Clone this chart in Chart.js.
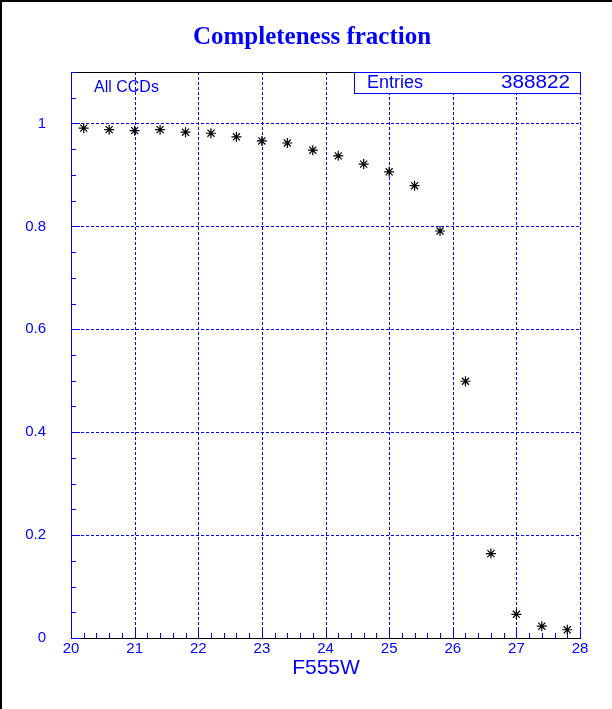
<!DOCTYPE html>
<html>
<head>
<meta charset="utf-8">
<script src="https://cdn.jsdelivr.net/npm/chart.js@4"></script>
<style>
  html, body { margin: 0; padding: 0; background: #fff; }
  canvas { display: block; }
</style>
</head>
<body>
<canvas id="completeness" width="612" height="709"></canvas>
<script>
// F555W magnitude bins and completeness fraction
const magnitudes = [20.2, 20.6, 21.0, 21.4, 21.8, 22.2, 22.6, 23.0, 23.4, 23.8,
                    24.2, 24.6, 25.0, 25.4, 25.8, 26.2, 26.6, 27.0, 27.4, 27.8];
const fractions = [0.991, 0.988, 0.986, 0.988, 0.983, 0.981, 0.974, 0.966, 0.962, 0.948,
                   0.937, 0.921, 0.906, 0.879, 0.791, 0.499, 0.164, 0.046, 0.023, 0.016];
const xTickLabels = [20, 21, 22, 23, 24, 25, 26, 27, 28];
const yTickLabels = [0, 0.2, 0.4, 0.6, 0.8, 1];
const entries = 388822;

const BLUE = "#0000ff";

const pawFrame = {
    id: 'pawFrame',
    beforeDatasetsDraw(chart) {
        const c = chart.ctx;
        const xs = chart.scales.x, ys = chart.scales.y;
        const a = chart.chartArea;
        c.save();

        // dashed grid
        c.strokeStyle = BLUE;
        c.lineWidth = 1;
        c.setLineDash([3, 2]);
        xTickLabels.slice(1).forEach(v => {
            const px = Math.round(xs.getPixelForValue(v)) + 0.5;
            c.beginPath(); c.moveTo(px, a.top); c.lineTo(px, a.bottom); c.stroke();
        });
        yTickLabels.slice(1).forEach(v => {
            const py = Math.round(ys.getPixelForValue(v)) + 0.5;
            c.beginPath(); c.moveTo(a.left, py); c.lineTo(a.right, py); c.stroke();
        });
        c.setLineDash([]);

        // frame
        c.strokeStyle = "#000";
        c.beginPath(); c.moveTo(a.left, a.top + 0.5); c.lineTo(a.right, a.top + 0.5); c.stroke();
        c.beginPath(); c.moveTo(a.left, a.bottom + 0.5); c.lineTo(a.right + 1, a.bottom + 0.5); c.stroke();
        c.strokeStyle = BLUE;
        c.beginPath(); c.moveTo(a.left + 0.5, a.top); c.lineTo(a.left + 0.5, a.bottom); c.stroke();

        // x ticks
        for (let i = 0; i <= 40; i++) {
            const v = 20 + i * 0.2;
            const px = Math.round(xs.getPixelForValue(v)) + 0.5;
            const len = (i % 5 === 0) ? 9 : 5;
            c.beginPath(); c.moveTo(px, a.bottom); c.lineTo(px, a.bottom - len); c.stroke();
        }
        // y ticks
        for (let i = 0; i <= 22; i++) {
            const v = i * 0.05;
            const py = Math.round(ys.getPixelForValue(v)) + 0.5;
            const len = (i % 4 === 0) ? 9 : 5;
            c.beginPath(); c.moveTo(a.left, py); c.lineTo(a.left + len, py); c.stroke();
        }

        // tick labels
        c.fillStyle = BLUE;
        c.font = "15px 'Liberation Sans', Arial, sans-serif";
        c.textAlign = "center";
        c.textBaseline = "middle";
        xTickLabels.forEach(v => {
            c.fillText(String(v), xs.getPixelForValue(v), a.bottom + 11);
        });
        c.textAlign = "right";
        yTickLabels.forEach(v => {
            c.fillText(String(v), 46, ys.getPixelForValue(v));
        });

        // axis title
        c.textAlign = "center";
        c.font = "21px 'Liberation Sans', Arial, sans-serif";
        c.fillText("F555W", 326, 668);

        // title
        c.font = "bold 25px 'Liberation Serif', 'Times New Roman', serif";
        c.fillText("Completeness fraction", 312, 38);

        // label inside plot
        c.textAlign = "left";
        c.font = "16px 'Liberation Sans', Arial, sans-serif";
        c.fillText("All CCDs", 94, 88);

        // stats box
        c.fillStyle = "#fff";
        c.fillRect(354, 72, 227, 22);
        c.strokeStyle = BLUE;
        c.strokeRect(354.5, 72.5, 226, 21);
        c.fillStyle = BLUE;
        c.font = "18px 'Liberation Sans', Arial, sans-serif";
        c.fillText("Entries", 367, 83);
        c.save();
        c.translate(570, 83);
        c.scale(1.15, 1);
        c.textAlign = "right";
        c.fillText(String(entries), 0, 0);
        c.restore();

        // page border
        c.strokeStyle = "#000";
        c.lineWidth = 2;
        c.beginPath(); c.moveTo(1, 709); c.lineTo(1, 1); c.lineTo(612, 1); c.stroke();

        c.restore();
    }
};

const ctx = document.getElementById('completeness');

new Chart(ctx, {
    type: 'scatter',
    data: {
        datasets: [{
            label: 'Completeness',
            data: magnitudes.map((m, i) => ({ x: m, y: fractions[i] })),
            pointStyle: 'star',
            radius: 5,
            borderColor: '#000',
            backgroundColor: '#000',
            borderWidth: 1.2
        }]
    },
    options: {
        responsive: false,
        animation: false,
        layout: {
            padding: { left: 71, top: 72, right: 32, bottom: 71 }
        },
        scales: {
            x: { type: 'linear', min: 20, max: 28, display: false },
            y: { type: 'linear', min: 0, max: 1.1, display: false }
        },
        plugins: {
            legend: { display: false },
            title: { display: false },
            tooltip: { enabled: false }
        }
    },
    plugins: [pawFrame]
});
</script>
</body>
</html>
